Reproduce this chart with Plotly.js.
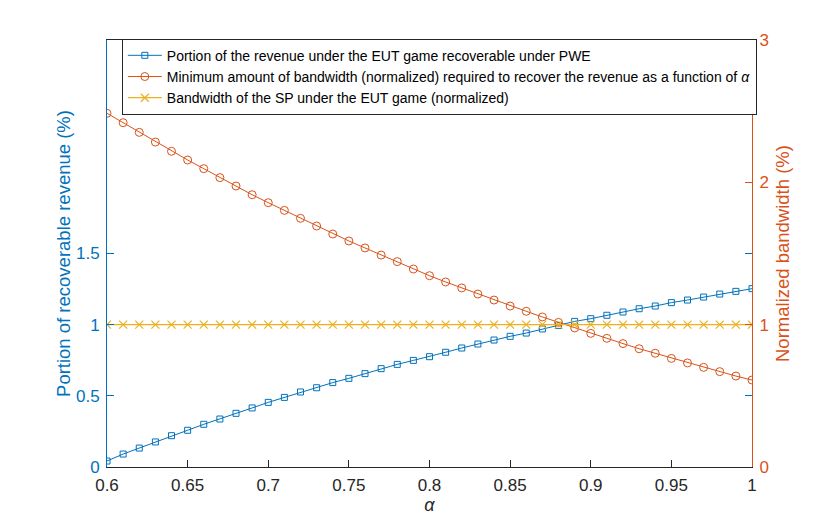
<!DOCTYPE html>
<html>
<head>
<meta charset="utf-8">
<script src="https://cdn.plot.ly/plotly-3.0.1.min.js"></script>
<style>
  body { margin: 0; background: #fff; }
  #chart { width: 830px; height: 525px; }
</style>
</head>
<body>
<div id="chart"></div>
<script>
const alpha = [0.6, 0.61, 0.62, 0.63, 0.64, 0.65, 0.66, 0.67, 0.68, 0.69, 0.7,
  0.71, 0.72, 0.73, 0.74, 0.75, 0.76, 0.77, 0.78, 0.79, 0.8,
  0.81, 0.82, 0.83, 0.84, 0.85, 0.86, 0.87, 0.88, 0.89, 0.9,
  0.91, 0.92, 0.93, 0.94, 0.95, 0.96, 0.97, 0.98, 0.99, 1.0];

// portion of revenue recoverable under PWE (left axis)
const revenue = [0.042, 0.091, 0.133, 0.176, 0.220, 0.258, 0.300, 0.337, 0.377, 0.415, 0.454,
  0.489, 0.527, 0.557, 0.593, 0.623, 0.656, 0.691, 0.721, 0.749, 0.775,
  0.806, 0.836, 0.864, 0.892, 0.918, 0.941, 0.970, 0.995, 1.023, 1.042,
  1.066, 1.089, 1.112, 1.131, 1.155, 1.173, 1.194, 1.215, 1.234, 1.253];

// minimum bandwidth needed (right axis)
const minBandwidth = [2.485, 2.419, 2.351, 2.283, 2.218, 2.157, 2.096, 2.033, 1.974, 1.913, 1.857,
  1.803, 1.747, 1.693, 1.637, 1.588, 1.539, 1.489, 1.443, 1.391, 1.344,
  1.300, 1.258, 1.215, 1.173, 1.131, 1.094, 1.054, 1.016, 0.977, 0.939,
  0.904, 0.867, 0.831, 0.799, 0.763, 0.731, 0.700, 0.670, 0.639, 0.611];

// SP bandwidth under EUT game, normalized
const eutBandwidth = [1, 1, 1, 1, 1, 1, 1, 1, 1, 1, 1,
  1, 1, 1, 1, 1, 1, 1, 1, 1, 1,
  1, 1, 1, 1, 1, 1, 1, 1, 1, 1,
  1, 1, 1, 1, 1, 1, 1, 1, 1, 1];

const xTicks = [0.6, 0.65, 0.7, 0.75, 0.8, 0.85, 0.9, 0.95, 1];
const xTickText = ["0.6", "0.65", "0.7", "0.75", "0.8", "0.85", "0.9", "0.95", "1"];
const leftTicks = [0, 0.5, 1, 1.5];
const leftTickText = ["0", "0.5", "1", "1.5"];
const rightTicks = [0, 1, 2, 3];

const blue = "#0072BD";
const orange = "#D95319";
const yellow = "#EDB120";
const font = "Liberation Sans, Arial, sans-serif";

const traceRevenue = {
  x: alpha,
  y: revenue,
  type: "scatter",
  mode: "lines+markers",
  name: "Portion of the revenue under the EUT game recoverable under PWE",
  line: { color: blue, width: 1 },
  marker: { symbol: "square-open", size: 6, color: blue, line: { width: 1 } },
};

const traceMin = {
  x: alpha,
  y: minBandwidth,
  yaxis: "y2",
  type: "scatter",
  mode: "lines+markers",
  name: "Minimum amount of bandwidth (normalized) required to recover the revenue as a function of <i>α</i>",
  line: { color: orange, width: 1 },
  marker: { symbol: "circle-open", size: 8, color: orange, line: { width: 1 } },
};

const traceEut = {
  x: alpha,
  y: eutBandwidth,
  yaxis: "y2",
  type: "scatter",
  mode: "lines+markers",
  name: "Bandwidth of the SP under the EUT game (normalized)",
  line: { color: yellow, width: 1.2 },
  marker: { symbol: "x-thin-open", size: 8, color: yellow, line: { width: 1.2, color: yellow } },
};

const layout = {
  width: 830,
  height: 525,
  margin: { t: 40, l: 107, r: 78, b: 58 },
  paper_bgcolor: "#fff",
  plot_bgcolor: "#fff",
  font: { family: font, color: "#262626" },
  showlegend: true,
  legend: {
    x: 0.023,
    y: 1.003,
    xanchor: "left",
    yanchor: "top",
    bgcolor: "#fff",
    bordercolor: "#262626",
    borderwidth: 1,
    font: { family: font, size: 14, color: "#000" },
    tracegroupgap: 0,
    itemwidth: 34,
  },
  xaxis: {
    range: [0.6, 1],
    tickvals: xTicks,
    ticktext: xTickText,
    ticks: "inside",
    ticklen: 7,
    tickcolor: "#262626",
    showline: true,
    linecolor: "#262626",
    mirror: true,
    showgrid: false,
    zeroline: false,
    ticklabelstandoff: 3,
    tickfont: { size: 17, color: "#262626" },
    title: { text: "<i>α</i>", font: { size: 18, color: "#262626" }, standoff: 3 },
  },
  yaxis: {
    range: [0, 3],
    tickvals: leftTicks,
    ticktext: leftTickText,
    ticks: "inside",
    ticklen: 7,
    tickcolor: blue,
    showline: true,
    linecolor: blue,
    mirror: "ticks",
    showgrid: false,
    zeroline: false,
    ticklabelstandoff: 3,
    tickfont: { size: 17, color: blue },
    title: { text: "Portion of recoverable revenue (%)", font: { size: 18.5, color: blue }, standoff: 0 },
  },
  yaxis2: {
    range: [0, 3],
    overlaying: "y",
    side: "right",
    tickvals: rightTicks,
    ticks: "inside",
    ticklen: 7,
    tickcolor: orange,
    showline: true,
    linecolor: orange,
    showgrid: false,
    zeroline: false,
    ticklabelstandoff: 3,
    tickfont: { size: 17, color: orange },
    title: { text: "Normalized bandwidth (%)", font: { size: 18.5, color: orange }, standoff: 8 },
  },
};

Plotly.newPlot("chart", [traceRevenue, traceMin, traceEut], layout, { displayModeBar: false, staticPlot: true });
</script>
</body>
</html>
